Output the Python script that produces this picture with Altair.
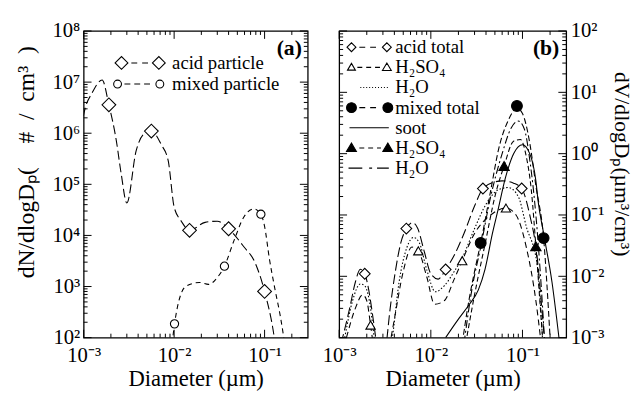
import altair as alt
import pandas as pd

FONT = "Liberation Serif"

# ---------------- Panel (a): number distribution ----------------
acid_x = [0.00095, 0.001, 0.00125, 0.0016, 0.0019, 0.0023, 0.0026, 0.003, 0.0038, 0.0046, 0.0056,
          0.0072, 0.0086, 0.010, 0.012, 0.0148, 0.022, 0.030, 0.040, 0.059, 0.078, 0.100, 0.128, 0.135]
acid_y = [1.2e6, 2.3e6, 6.3e6, 1.1e7, 3.6e6, 7e5, 1.6e5, 4.3e4, 4.5e5, 9.5e5, 1.1e6,
          6e5, 2.9e5, 3.6e4, 1.9e4, 1.26e4, 1.8e4, 1.9e4, 1.35e4, 6e3, 3e3, 8e2, 1e2, 5e1]
acid_mx = [0.0019, 0.0056, 0.0148, 0.040, 0.100]
acid_my = [3.6e6, 1.1e6, 1.26e4, 1.35e4, 8e2]

mixed_x = [0.0093, 0.0101, 0.0134, 0.019, 0.024, 0.030, 0.036, 0.046, 0.059, 0.076, 0.091,
           0.100, 0.113, 0.130, 0.150, 0.163, 0.170]
mixed_y = [5e1, 1.86e2, 1.0e3, 1.2e3, 1.1e3, 1.5e3, 2.5e3, 8e3, 2.3e4, 3.3e4, 2.6e4,
           1.5e4, 3.5e3, 9e2, 2.5e2, 1e2, 6e1]
mixed_mx = [0.0101, 0.036, 0.091]
mixed_my = [1.86e2, 2.5e3, 2.6e4]

# ---------------- Panel (b): volume distribution ----------------
at_x = [0.00105, 0.0013, 0.0015, 0.0017, 0.0019, 0.0021, 0.0023, 0.0025, 0.0028,
        0.0032, 0.0036, 0.0041, 0.0047, 0.0054, 0.0063, 0.0072, 0.0085, 0.010, 0.012, 0.0145,
        0.018, 0.023, 0.030, 0.037, 0.048, 0.060, 0.080, 0.098, 0.120, 0.145, 0.160, 0.175]
at_y = [0.0008, 0.003, 0.008, 0.013, 0.011, 0.006, 0.0025, 0.001, 0.0002,
        0.0006, 0.003, 0.012, 0.035, 0.060, 0.075, 0.060, 0.025, 0.011, 0.009, 0.0129,
        0.022, 0.05, 0.14, 0.27, 0.34, 0.36, 0.33, 0.27, 0.10, 0.02, 0.004, 0.0008]
at_mx = [0.0019, 0.0054, 0.0145, 0.037, 0.098]
at_my = [0.011, 0.060, 0.0129, 0.27, 0.27]

as_x = [0.0012, 0.0015, 0.0018, 0.002, 0.0022, 0.0024, 0.0028,
        0.0033, 0.004, 0.005, 0.0062, 0.0073, 0.009, 0.011, 0.014, 0.018, 0.022, 0.030,
        0.045, 0.066, 0.085, 0.110, 0.140, 0.160]
as_y = [0.001, 0.003, 0.005, 0.004, 0.0016, 0.0006, 0.0001,
        0.0004, 0.002, 0.012, 0.030, 0.026, 0.010, 0.0035, 0.004, 0.009, 0.018, 0.05,
        0.10, 0.13, 0.10, 0.03, 0.004, 0.0008]
as_mx = [0.0022, 0.0073, 0.022, 0.066]
as_my = [0.0016, 0.026, 0.018, 0.13]

aw_x = [0.00115, 0.0014, 0.0017, 0.0019, 0.0021, 0.0023, 0.0025, 0.0029,
        0.0034, 0.0038, 0.0045, 0.0055, 0.0065, 0.0075, 0.009, 0.0112, 0.014, 0.018, 0.022,
        0.030, 0.040, 0.055, 0.070, 0.090, 0.110, 0.145, 0.165]
aw_y = [0.001, 0.004, 0.0075, 0.007, 0.0045, 0.0018, 0.0006, 0.0001,
        0.0004, 0.001, 0.008, 0.030, 0.043, 0.035, 0.013, 0.0056, 0.007, 0.012, 0.020,
        0.06, 0.15, 0.26, 0.28, 0.20, 0.065, 0.015, 0.001]

mt_x = [0.022, 0.026, 0.030, 0.035, 0.045, 0.055, 0.070, 0.087, 0.100, 0.120, 0.140, 0.170, 0.200]
mt_y = [0.0008, 0.004, 0.012, 0.035, 0.25, 1.2, 3.5, 5.5, 4.5, 1.5, 0.3, 0.042, 0.001]
mt_mx = [0.035, 0.087, 0.170]
mt_my = [0.035, 6.0, 0.042]

soot_x = [0.0145, 0.020, 0.026, 0.033, 0.039, 0.047, 0.054, 0.065, 0.080, 0.100, 0.120,
          0.140, 0.148, 0.170, 0.210, 0.250]
soot_y = [0.001, 0.002, 0.0034, 0.006, 0.013, 0.05, 0.12, 0.40, 1.0, 1.4, 1.0,
          0.36, 0.17, 0.05, 0.008, 0.001]

ms_x = [0.024, 0.030, 0.040, 0.050, 0.063, 0.080, 0.095, 0.110, 0.125, 0.140, 0.160, 0.170]
ms_y = [0.0008, 0.005, 0.04, 0.20, 0.63, 1.6, 1.7, 0.9, 0.25, 0.031, 0.002, 0.0006]
ms_mx = [0.063, 0.140]
ms_my = [0.63, 0.031]

mw_x = [0.023, 0.028, 0.035, 0.045, 0.060, 0.075, 0.090, 0.105, 0.120, 0.140, 0.160, 0.175]
mw_y = [0.0008, 0.006, 0.03, 0.2, 1.0, 2.6, 3.4, 2.5, 0.8, 0.1, 0.007, 0.0008]

# ---------------- axes / legends ----------------
x_major = [0.001, 0.01, 0.1]
ya_major = [1e2, 1e3, 1e4, 1e5, 1e6, 1e7, 1e8]
yb_major = [1e-3, 1e-2, 1e-1, 1e0, 1e1, 1e2]

legend_a = ["acid particle", "mixed particle"]
legend_b_keys = ["acid total", "acid H2SO4", "acid H2O", "mixed total", "soot", "mixed H2SO4", "mixed H2O"]
legend_b_text = ["acid total", "H₂SO₄", "H₂O", "mixed total", "soot", "H₂SO₄", "H₂O"]

W_A, W_B, H = 228, 231, 312
XDOM = [0.001, 0.3]


def minor_of(major, lo, hi):
    out = []
    for m in major:
        for k in range(2, 10):
            v = m * k
            if lo < v < hi:
                out.append(v)
    return out


SUP = "['⁰','¹','²','³','⁴','⁵','⁶','⁷','⁸','⁹']"
EXP = "round(log(datum.value)/LN10)"
LABEL_EXPR = f"({EXP} < 0 ? '10⁻' : '10') + {SUP}[abs({EXP})]"


def make_axes(ymaj, ytitle, yorient, title_pad, title_y, title_size):
    xaxis = alt.Axis(values=x_major, labelExpr=LABEL_EXPR, ticks=False, domain=False, grid=False,
                     title="Diameter (µm)", labelFont=FONT, labelFontSize=21, labelColor="black",
                     titleFont=FONT, titleFontSize=23, titleFontWeight="normal", titleColor="black",
                     labelPadding=7, titlePadding=3, labelFlush=False, orient="bottom")
    yaxis = alt.Axis(values=ymaj, labelExpr=LABEL_EXPR, ticks=False, domain=False, grid=False,
                     orient=yorient, title=ytitle, labelFont=FONT, labelFontSize=21, labelColor="black",
                     titleFont=FONT, titleFontSize=title_size, titleFontWeight="normal", titleColor="black",
                     labelPadding=4, titlePadding=title_pad, titleY=title_y, labelFlush=False)
    return xaxis, yaxis


def df_xy(xs, ys):
    return pd.DataFrame({"x": xs, "y": ys})


def line(xs, ys, P, dash=None, width=1.1):
    kw = dict(color="black", strokeWidth=width, clip=True, interpolate="monotone")
    if dash:
        kw["strokeDash"] = dash
    return alt.Chart(df_xy(xs, ys)).mark_line(**kw).encode(
        x=alt.X("x:Q", scale=P["xs"], axis=P["xa"]), y=alt.Y("y:Q", scale=P["ys"], axis=P["ya"]))


def points(xs, ys, P, shape, size, fill):
    return alt.Chart(df_xy(xs, ys)).mark_point(
        shape=shape, size=size, filled=True, fill=fill, stroke="black",
        strokeWidth=1.1, opacity=1, clip=True).encode(
        x=alt.X("x:Q", scale=P["xs"], axis=P["xa"]), y=alt.Y("y:Q", scale=P["ys"], axis=P["ya"]))


def tick_layers(P, W, xmaj, xmin, ymaj, ymin):
    layers = []
    X = lambda: alt.X("v:Q", scale=P["xs"], axis=P["xa"])
    Y = lambda: alt.Y("v:Q", scale=P["ys"], axis=P["ya"])
    for vals, L in [(xmaj, 8), (xmin, 4)]:
        base = alt.Chart(pd.DataFrame({"v": vals})).mark_rule(color="black", strokeWidth=1)
        layers.append(base.encode(x=X(), y=alt.value(H), y2=alt.value(H - L)))
        layers.append(base.encode(x=X(), y=alt.value(0), y2=alt.value(L)))
    for vals, L in [(ymaj, 8), (ymin, 4)]:
        base = alt.Chart(pd.DataFrame({"v": vals})).mark_rule(color="black", strokeWidth=1)
        layers.append(base.encode(y=Y(), x=alt.value(0), x2=alt.value(L)))
        layers.append(base.encode(y=Y(), x=alt.value(W), x2=alt.value(W - L)))
    return layers


def legend_layer(keys, texts, paths, fills, P, lx, ly, yval, label_offset, row_pad):
    label_expr = "datum.label"
    for k, t in zip(keys, texts):
        if k != t:
            label_expr = f"datum.label == '{k}' ? '{t}' : ({label_expr})"
    leg = alt.Legend(orient="none", legendX=lx, legendY=ly, title=None, padding=0,
                     symbolSize=4, symbolStrokeWidth=1.1, symbolOpacity=1,
                     labelFont=FONT, labelFontSize=19, labelColor="black", labelOffset=label_offset,
                     labelLimit=300, rowPadding=row_pad, labelExpr=label_expr)
    df = pd.DataFrame({"series": keys, "x": [x_major[0]] * len(keys), "y": [yval] * len(keys)})
    return alt.Chart(df).mark_point(strokeWidth=1.1, opacity=1, clip=True).encode(
        x=alt.X("x:Q", scale=P["xs"], axis=P["xa"]), y=alt.Y("y:Q", scale=P["ys"], axis=P["ya"]),
        shape=alt.Shape("series:N", scale=alt.Scale(domain=keys, range=paths), legend=leg),
        fill=alt.Fill("series:N", scale=alt.Scale(domain=keys, range=fills), legend=leg),
        stroke=alt.Stroke("series:N", scale=alt.Scale(domain=keys, range=["black"] * len(keys)), legend=leg))


def dash_path(x0, x1, seg, gap):
    parts = []
    x = x0
    while x < x1:
        parts.append(f"M{x:.1f},0L{min(x + seg, x1):.1f},0")
        x += seg + gap
    return " ".join(parts)


def diamond(cx, r):
    return f"M{cx - r},0L{cx},{-r}L{cx + r},0L{cx},{r}Z"


def circle(cx, r):
    return f"M{cx - r},0A{r},{r} 0 1,0 {cx + r},0A{r},{r} 0 1,0 {cx - r},0Z"


def tri(cx, r):
    return f"M{cx - r},{r * 0.7}L{cx},{-r}L{cx + r},{r * 0.7}Z"


# ---------------- build panel (a) ----------------
xa_ax, ya_ax = make_axes(ya_major, "dN/dlogDₚ(\u2003#\u2002/\u2002cm³\u2002)", "left", 14, 133, 24)
PA = dict(xs=alt.Scale(type="log", domain=XDOM, nice=False),
          ys=alt.Scale(type="log", domain=[1e2, 1e8], nice=False), xa=xa_ax, ya=ya_ax)

paths_a = [diamond(0, 6.5) + " " + dash_path(10, 28, 6, 5) + " " + diamond(38, 6.5),
           circle(-4, 4) + " " + dash_path(3, 32, 6, 4) + " " + circle(39, 4)]

layers_a = tick_layers(PA, W_A, x_major, minor_of(x_major, XDOM[0], XDOM[1]),
                       ya_major, minor_of(ya_major, 1e2, 1e8))
layers_a += [
    line(acid_x, acid_y, PA, dash=[9, 4]),
    line(mixed_x, mixed_y, PA, dash=[5, 4]),
    points(acid_mx, acid_my, PA, "diamond", 196, "white"),
    points(mixed_mx, mixed_my, PA, "circle", 70, "white"),
    legend_layer(legend_a, legend_a, paths_a, ["white", "white"], PA, 29, 23, 1e-5, 42, 1.5),
    alt.Chart(pd.DataFrame({"t": ["(a)"]})).mark_text(
        font=FONT, fontSize=22, fontWeight="bold", align="right", baseline="middle", color="black"
    ).encode(text="t:N", x=alt.value(W_A - 6), y=alt.value(17)),
]
panel_a = alt.layer(*layers_a).properties(width=W_A, height=H)

# ---------------- build panel (b) ----------------
xb_ax, yb_ax = make_axes(yb_major, "dV/dlogDₚ(µm³/cm³)", "right", 6, 135, 22)
PB = dict(xs=alt.Scale(type="log", domain=XDOM, nice=False),
          ys=alt.Scale(type="log", domain=[1e-3, 1e2], nice=False), xa=xb_ax, ya=yb_ax)

dots = " ".join(f"M{x},0L{x + 1},0" for x in range(9, 39, 3))
paths_b = [
    diamond(0, 4.5) + " " + dash_path(8, 27, 6, 5) + " " + diamond(36, 4.5),
    tri(0, 4) + " " + dash_path(6, 30, 5, 4) + " " + tri(36, 4.5),
    dots,
    circle(0, 5) + " " + dash_path(8, 27, 6, 5) + " " + circle(37, 5),
    "M-2,0L38,0",
    tri(0, 5) + " " + dash_path(8, 30, 5, 4) + " " + tri(37, 5),
    "M-3,0L11,0 M18,0L21,0 M26,0L38,0",
]
fills_b = ["white", "white", "white", "black", "black", "black", "black"]

layers_b = tick_layers(PB, W_B, x_major, minor_of(x_major, XDOM[0], XDOM[1]),
                       yb_major, minor_of(yb_major, 1e-3, 1e2))
layers_b += [
    line(aw_x, aw_y, PB, dash=[1.5, 2]),
    line(as_x, as_y, PB, dash=[6, 4]),
    line(at_x, at_y, PB, dash=[10, 4]),
    line(mw_x, mw_y, PB, dash=[8, 3, 2, 3]),
    line(ms_x, ms_y, PB, dash=[5, 3]),
    line(mt_x, mt_y, PB, dash=[6, 3]),
    line(soot_x, soot_y, PB),
    points(at_mx, at_my, PB, "diamond", 121, "white"),
    points(as_mx, as_my, PB, "triangle-up", 90, "white"),
    points(mt_mx, mt_my, PB, "circle", 121, "black"),
    points(ms_mx, ms_my, PB, "triangle-up", 110, "black"),
    legend_layer(legend_b_keys, legend_b_text, paths_b, fills_b, PB, 3, 7, 1e-8, 35, 0.5),
    alt.Chart(pd.DataFrame({"t": ["(b)"]})).mark_text(
        font=FONT, fontSize=22, fontWeight="bold", align="right", baseline="middle", color="black"
    ).encode(text="t:N", x=alt.value(W_B - 7), y=alt.value(17)),
]
panel_b = alt.layer(*layers_b).properties(width=W_B, height=H)

chart = alt.hconcat(panel_a, panel_b, spacing=12).properties(
    padding={"left": 6, "top": 8, "right": 2, "bottom": 2}, background="white"
).configure_view(stroke="black", strokeWidth=1.3).resolve_scale(
    shape="independent", fill="independent", stroke="independent")

chart.save("out.html", embed_options={"renderer": "svg", "actions": False})
